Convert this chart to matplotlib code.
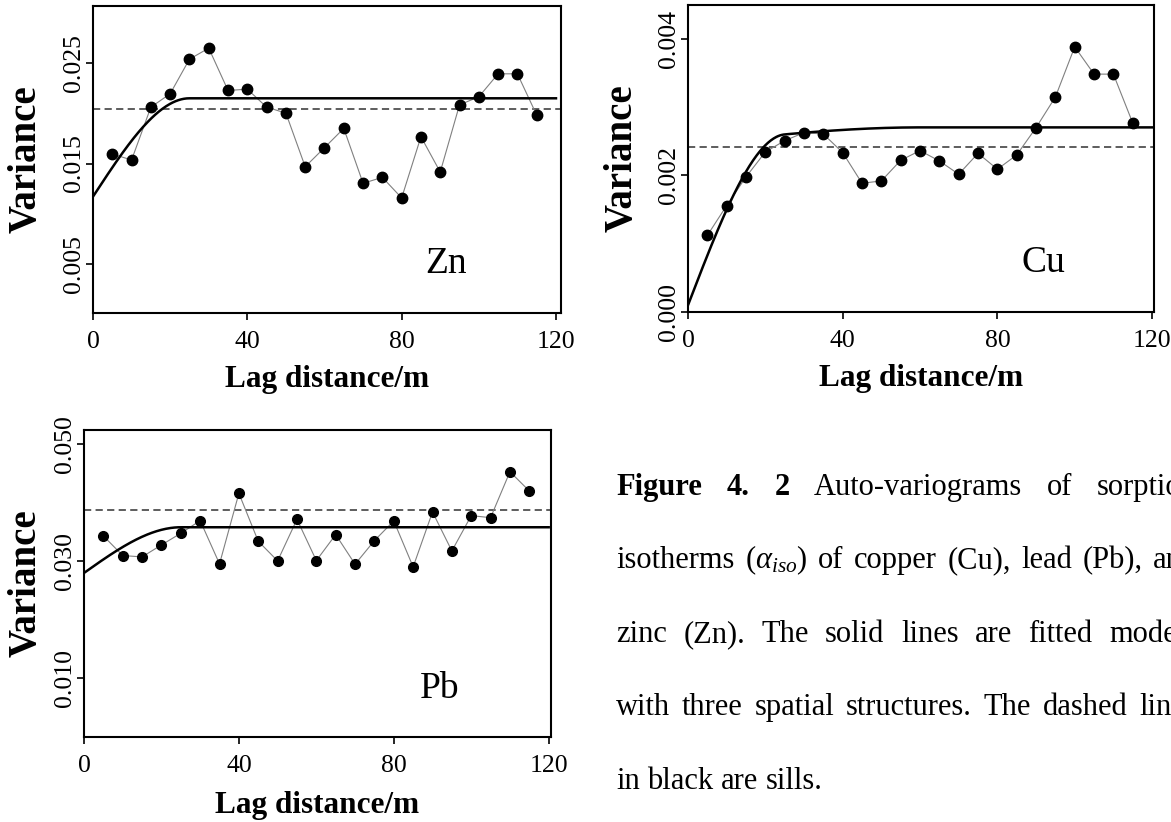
import numpy as np
import matplotlib.pyplot as plt
from matplotlib.transforms import IdentityTransform

plt.rcParams['font.family'] = 'Liberation Serif'
plt.rcParams['mathtext.fontset'] = 'custom'
plt.rcParams['mathtext.rm'] = 'Liberation Serif'
plt.rcParams['mathtext.it'] = 'Liberation Serif:italic'

# experimental semivariances at each lag (m)
lag = [5, 10, 15, 20, 25, 30, 35, 40, 45, 50, 55, 60,
       65, 70, 75, 80, 85, 90, 95, 100, 105, 110, 115]
zn_gamma = [0.01595, 0.01535, 0.02062, 0.02195, 0.0254, 0.0265, 0.02228, 0.02241,
            0.02062, 0.02002, 0.01468, 0.01658, 0.0185, 0.01303, 0.01362, 0.01157,
            0.01767, 0.01415, 0.02085, 0.02165, 0.02394, 0.02394, 0.01983]
cu_gamma = [0.00112, 0.001557, 0.001976, 0.00234, 0.002506, 0.002623, 0.002603,
            0.002331, 0.001883, 0.001917, 0.002219, 0.00236, 0.002209, 0.002015,
            0.002321, 0.002088, 0.002297, 0.002696, 0.003144, 0.003878, 0.003479,
            0.003479, 0.002764]
pb_gamma = [0.03432, 0.03097, 0.03074, 0.03278, 0.03477, 0.03693, 0.02955, 0.04159,
            0.03341, 0.03006, 0.03716, 0.03011, 0.03455, 0.02949, 0.03352, 0.03688,
            0.02903, 0.03841, 0.03176, 0.03778, 0.03744, 0.04528, 0.04199]

# fitted models: nugget + spherical parts (partial sill, range)
zn_nugget, zn_parts = 0.0117, [(0.0098, 25)]
cu_nugget, cu_parts = 0.0001, [(0.00235, 25), (0.00025, 60)]
pb_nugget, pb_parts = 0.028, [(0.0078, 25)]

# sample variance (sill)
zn_sill = 0.02046
cu_sill = 0.002409
pb_sill = 0.03881

xticks = [0, 40, 80, 120]
zn_yticks, zn_ylabels = [0.005, 0.015, 0.025], ['0.005', '0.015', '0.025']
cu_yticks, cu_ylabels = [0.0, 0.002, 0.004], ['0.000', '0.002', '0.004']
pb_yticks, pb_ylabels = [0.010, 0.030, 0.050], ['0.010', '0.030', '0.050']

W, H = 1171, 822
fig = plt.figure(figsize=(W / 100, H / 100), dpi=100)


def rect(left, top, right, bottom):
    return [left / W, 1 - bottom / H, (right - left) / W, (bottom - top) / H]


def spherical(h, nugget, parts):
    g = np.full_like(h, nugget)
    for c, a in parts:
        r = np.minimum(h / a, 1.0)
        g = g + c * (1.5 * r - 0.5 * r ** 3)
    return g


def panel(box, gamma, nugget, parts, sill, xmax, ylim, yticks, ylabels,
          name, name_xy, ylab_x, xlab_y, ms):
    ax = fig.add_axes(rect(*box))
    h = np.linspace(0, 120, 500)
    ax.plot(lag, gamma, color='#808080', lw=0.8, zorder=2)
    ax.plot(lag, gamma, 'o', color='black', ms=ms, zorder=3)
    ax.plot(h, spherical(h, nugget, parts), color='black', lw=1.8, zorder=4)
    ax.axhline(sill, color='#505050', lw=1.3, dashes=(4, 2.4), zorder=1)
    ax.set_xlim(0, xmax)
    ax.set_ylim(*ylim)
    ax.set_xticks(xticks)
    ax.set_xticklabels([str(t) for t in xticks], fontsize=18.5)
    ax.set_yticks(yticks)
    ax.set_yticklabels(ylabels, fontsize=18.5, rotation=90, va='center')
    ax.tick_params(axis='x', length=5, width=1.2, pad=8)
    ax.tick_params(axis='y', length=5, width=1.2, pad=1)
    for s in ax.spines.values():
        s.set_linewidth(1.5)
    fig.text(name_xy[0] / W, 1 - name_xy[1] / H, name, fontsize=27,
             ha='center', va='baseline')
    fig.text(ylab_x / W, 1 - (box[1] + box[3]) / 2 / H, 'Variance', fontsize=28,
             fontweight='bold', rotation=90, ha='center', va='center')
    fig.text((box[0] + box[2]) / 2 / W, 1 - xlab_y / H, 'Lag distance/m',
             fontsize=22.5, fontweight='bold', ha='center', va='baseline')
    return ax


panel((93, 6, 561, 313), zn_gamma, zn_nugget, zn_parts, zn_sill, 121.3,
      (0.0001, 0.0307), zn_yticks, zn_ylabels, 'Zn', (446, 273), 26, 387, 7.5)
panel((688, 5, 1154, 312), cu_gamma, cu_nugget, cu_parts, cu_sill, 120.5,
      (0.0, 0.00449), cu_yticks, cu_ylabels, 'Cu', (1043, 272), 622, 386, 7.5)
panel((84, 430, 551, 737), pb_gamma, pb_nugget, pb_parts, pb_sill, 120.6,
      (0.0, 0.0524), pb_yticks, pb_ylabels, 'Pb', (440, 698), 26, 813, 7)

# justified caption, running past the right edge
caption = [
    ([('Figure', 'bold'), ('4.', 'bold'), ('2', 'bold'), ('Auto-variograms', 'normal'),
      ('of', 'normal'), ('sorption', 'normal')], 495, True),
    ([('isotherms', 'normal'), (r'($\alpha_{iso}$)', 'normal'), ('of', 'normal'),
      ('copper', 'normal'), ('(Cu),', 'normal'), ('lead', 'normal'), ('(Pb),', 'normal'),
      ('and', 'normal')], 568, True),
    ([('zinc', 'normal'), ('(Zn).', 'normal'), ('The', 'normal'), ('solid', 'normal'),
      ('lines', 'normal'), ('are', 'normal'), ('fitted', 'normal'), ('models', 'normal')],
     642, True),
    ([('with', 'normal'), ('three', 'normal'), ('spatial', 'normal'),
      ('structures.', 'normal'), ('The', 'normal'), ('dashed', 'normal'),
      ('lines', 'normal')], 715, True),
    ([('in', 'normal'), ('black', 'normal'), ('are', 'normal'), ('sills.', 'normal')],
     789, False),
]
cap_left, cap_right, cap_size = 616, 1197, 22
renderer = fig.canvas.get_renderer()
for words, y, justify in caption:
    texts = [fig.text(0, 0, w, fontsize=cap_size, fontweight=wt,
                      transform=IdentityTransform()) for w, wt in words]
    widths = [t.get_window_extent(renderer).width for t in texts]
    if justify:
        gap = (cap_right - cap_left - sum(widths)) / (len(words) - 1)
    else:
        gap = cap_size * 100 / 72 * 0.25
    x = cap_left
    for t, w in zip(texts, widths):
        t.set_position((x, H - y))
        x += w + gap

fig.savefig('out.png', dpi=100)
